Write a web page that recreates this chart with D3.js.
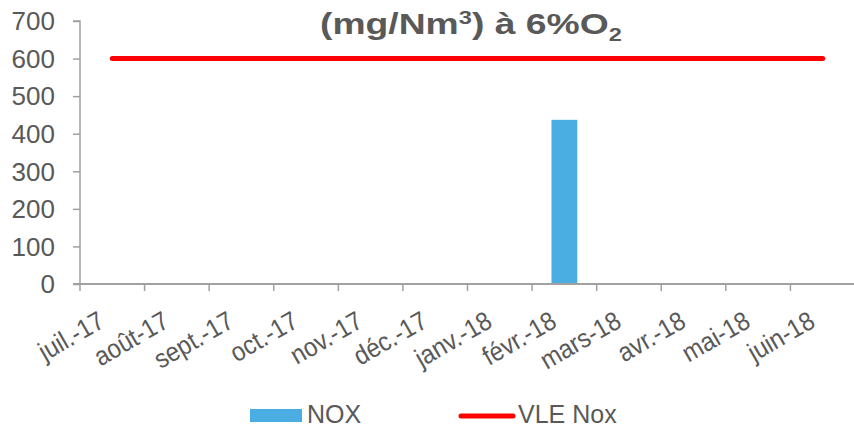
<!DOCTYPE html>
<html>
<head>
<meta charset="utf-8">
<script src="https://cdn.jsdelivr.net/npm/d3@7"></script>
<style>
  html, body { margin: 0; padding: 0; background: #fff; }
  svg { display: block; font-family: "Liberation Sans", Arial, sans-serif; }
</style>
</head>
<body>
<svg id="chart" width="854" height="427"></svg>
<script>
// Monthly NOx concentration with the emission limit value
const months = ["juil.-17", "août-17", "sept.-17", "oct.-17", "nov.-17", "déc.-17",
                "janv.-18", "févr.-18", "mars-18", "avr.-18", "mai-18", "juin-18"];
const noxValues = [null, null, null, null, null, null, null, 437, null, null, null, null];
const vleValues = [600, 600, 600, 600, 600, 600, 600, 600, 600, 600, 600, 600];
const yTicks = [0, 100, 200, 300, 400, 500, 600, 700];

const svg = d3.select("#chart");
const margin = { left: 80, right: -1, top: 21, bottom: 143 };
const W = 854, H = 427;
const textColor = "#595959";
const axisColor = "#a0a0a0";

const x = d3.scaleBand().domain(months).range([margin.left, W - margin.right]).paddingInner(0).paddingOuter(0);
const y = d3.scaleLinear().domain([0, 700]).range([H - margin.bottom, margin.top]);

// Title (second line of the chart title), widened to the title box
const title = svg.append("text")
  .attr("x", 0).attr("y", 0)
  .attr("fill", textColor)
  .attr("font-size", 30)
  .attr("font-weight", "bold");
title.append("tspan").text("(mg/Nm");
title.append("tspan").attr("font-size", 19).attr("dy", -10).text("3");
title.append("tspan").attr("dy", 10).text(") à 6%O");
title.append("tspan").attr("font-size", 19).attr("dy", 7).text("2");
{
  const bb = title.node().getBBox();
  const targetW = 302, cx = 471, baseY = 34;
  const sx = targetW / bb.width;
  title.attr("transform", `translate(${cx - (bb.x + bb.width / 2) * sx},${baseY}) scale(${sx},1)`);
}

// Bars
svg.append("g").selectAll("rect")
  .data(months.map((m, i) => ({ m, v: noxValues[i] })).filter(d => d.v != null))
  .join("rect")
  .attr("x", d => x(d.m) + x.bandwidth() * 0.3)
  .attr("width", x.bandwidth() * 0.4)
  .attr("y", d => y(d.v))
  .attr("height", d => y(0) - y(d.v))
  .attr("fill", "#4aaee2");

// Y axis
const yAxis = svg.append("g")
  .attr("transform", `translate(${margin.left},0)`)
  .call(d3.axisLeft(y).tickValues(yTicks).tickSize(7).tickPadding(18).tickFormat(d3.format("d")));
yAxis.select(".domain").attr("stroke", axisColor).attr("stroke-width", 1.5).attr("d", `M-7,${y(700)}H0V${y(0)}`);
yAxis.selectAll(".tick line").attr("stroke", axisColor).attr("stroke-width", 1.5);
yAxis.selectAll(".tick text").attr("fill", textColor).attr("font-size", 26)
  .attr("font-family", "Liberation Sans, Arial, sans-serif").attr("dy", "0.34em");

// X axis with ticks at band edges
const xg = svg.append("g").attr("transform", `translate(0,${y(0)})`);
xg.append("line")
  .attr("x1", margin.left - 7).attr("x2", W)
  .attr("stroke", axisColor).attr("stroke-width", 2);
const edges = months.map(m => x(m)).concat([x.range()[1]]);
xg.selectAll(".edge").data(edges).join("line")
  .attr("class", "edge")
  .attr("x1", d => d).attr("x2", d => d)
  .attr("y1", 0).attr("y2", 7)
  .attr("stroke", axisColor).attr("stroke-width", 1.5);
xg.selectAll(".lbl").data(months).join("text")
  .attr("class", "lbl")
  .attr("text-anchor", "end")
  .attr("fill", textColor)
  .attr("font-size", 24)
  .attr("transform", d => `translate(${x(d) + x.bandwidth() / 2 - 6},${42}) rotate(-30) scale(1,1.1)`)
  .text(d => d);

// Limit line
const line = d3.line()
  .defined(d => d.v != null)
  .x(d => x(d.m) + x.bandwidth() / 2)
  .y(d => y(d.v));
svg.append("path")
  .datum(months.map((m, i) => ({ m, v: vleValues[i] })))
  .attr("d", line)
  .attr("fill", "none")
  .attr("stroke", "#ff0000")
  .attr("stroke-width", 5)
  .attr("stroke-linecap", "round");

// Legend
const lg = svg.append("g");
lg.append("rect").attr("x", 250).attr("y", 409).attr("width", 52).attr("height", 13).attr("fill", "#4aaee2");
lg.append("text").attr("x", 307).attr("y", 423).attr("fill", textColor).attr("font-size", 25).text("NOX");
lg.append("line").attr("x1", 461).attr("x2", 513).attr("y1", 416).attr("y2", 416)
  .attr("stroke", "#ff0000").attr("stroke-width", 5).attr("stroke-linecap", "round");
lg.append("text").attr("x", 518).attr("y", 423).attr("fill", textColor).attr("font-size", 25).text("VLE Nox");
</script>
</body>
</html>
